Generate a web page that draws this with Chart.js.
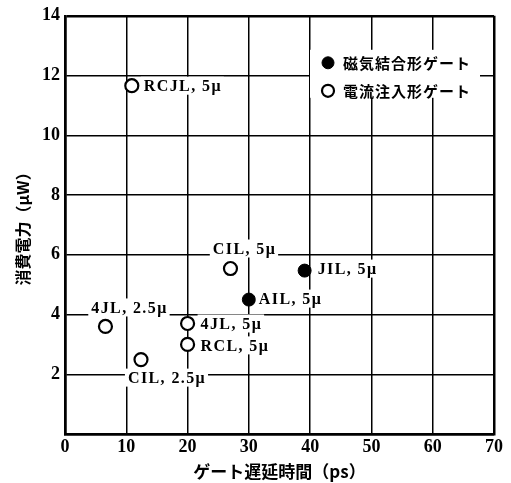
<!DOCTYPE html>
<html>
<head>
<meta charset="utf-8">
<script src="https://cdn.jsdelivr.net/npm/chart.js@4/dist/chart.umd.min.js"></script>
<style>
  body { margin: 0; background: #fff; }
  #wrap { width: 511px; height: 483px; }
</style>
</head>
<body>
<div id="wrap"><canvas id="chart" width="511" height="483"></canvas></div>
<script>
// ゲート遅延時間 (ps) と 消費電力 (μW)
const seriesNames = ["磁気結合形ゲート", "電流注入形ゲート"];

const magDelay = [30, 39.1];
const magPower = [4.5, 5.47];
const magLabels = ["AIL, 5μ", "JIL, 5μ"];

const curDelay = [10.9, 27.0, 6.6, 20.0, 20.0, 12.4];
const curPower = [11.66, 5.54, 3.6, 3.7, 3.0, 2.49];
const curLabels = ["RCJL, 5μ", "CIL, 5μ", "4JL, 2.5μ", "4JL, 5μ", "RCL, 5μ", "CIL, 2.5μ"];

const xTicks = [0, 10, 20, 30, 40, 50, 60, 70];
const yTicks = [0, 2, 4, 6, 8, 10, 12, 14];

// label placement (offset from the point, in px)
const magPlace = [
  { dx: 10, dy: -1, align: "left" },
  { dx: 13, dy: -2, align: "left" }
];
const curPlace = [
  { dx: 12, dy: 0, align: "left" },
  { dx: 14, dy: -20, align: "center" },
  { dx: 24, dy: -19, align: "center" },
  { dx: 13, dy: 0, align: "left" },
  { dx: 13, dy: 1, align: "left" },
  { dx: 26, dy: 18, align: "center" }
];

const toPoints = (xs, ys) => xs.map((x, i) => ({ x, y: ys[i] }));

const pointLabels = {
  id: "pointLabels",
  afterDatasetsDraw(chart) {
    const ctx = chart.ctx;
    ctx.save();
    ctx.font = "bold 16px 'Liberation Serif'";
    ctx.letterSpacing = "1.4px";
    ctx.textBaseline = "middle";
    chart.data.datasets.forEach((ds, di) => {
      const meta = chart.getDatasetMeta(di);
      meta.data.forEach((pt, i) => {
        const txt = ds.pointText[i];
        const p = ds.place[i];
        const w = ctx.measureText(txt).width;
        let x = pt.x + p.dx;
        if (p.align === "center") x -= w / 2;
        const y = pt.y + p.dy;
        ctx.fillStyle = "#fff";
        ctx.fillRect(x - 3, y - 9, w + 5, 18);
        ctx.fillStyle = "#000";
        ctx.textAlign = "left";
        ctx.fillText(txt, x, y + 1);
      });
    });
    ctx.restore();
  }
};

const boxLegend = {
  id: "boxLegend",
  afterDraw(chart) {
    const ctx = chart.ctx;
    const a = chart.chartArea;
    const left = a.right - 184, top = a.top + 34;
    ctx.save();
    ctx.fillStyle = "#fff";
    ctx.fillRect(left, top, 170, 48);
    ctx.font = "bold 15px 'Noto Sans CJK JP'";
    ctx.textBaseline = "middle";
    chart.data.datasets.forEach((ds, i) => {
      const y = top + 13 + i * 28;
      ctx.beginPath();
      ctx.arc(left + 18, y, ds.pointRadius - 0.5, 0, Math.PI * 2);
      ctx.fillStyle = ds.pointBackgroundColor;
      ctx.fill();
      ctx.lineWidth = ds.pointBorderWidth;
      ctx.strokeStyle = ds.pointBorderColor;
      ctx.stroke();
      ctx.fillStyle = "#000";
      ctx.letterSpacing = "1px";
      ctx.fillText(ds.label, left + 33, y);
    });
    ctx.restore();
  }
};

const gridWidth = ctx => (ctx.index === 0 || ctx.index === ctx.scale.ticks.length - 1) ? 2.5 : 1.5;

new Chart(document.getElementById("chart"), {
  type: "scatter",
  data: {
    datasets: [
      {
        label: seriesNames[0],
        data: toPoints(magDelay, magPower),
        pointText: magLabels,
        place: magPlace,
        pointRadius: 6.5,
        pointBackgroundColor: "#000",
        pointBorderColor: "#000",
        pointBorderWidth: 1
      },
      {
        label: seriesNames[1],
        data: toPoints(curDelay, curPower),
        pointText: curLabels,
        place: curPlace,
        pointRadius: 6.5,
        pointBackgroundColor: "#fff",
        pointBorderColor: "#000",
        pointBorderWidth: 2.2
      }
    ]
  },
  options: {
    responsive: false,
    animation: false,
    layout: { padding: { top: 14, right: 17, left: 0, bottom: 0 } },
    plugins: {
      legend: { display: false },
      tooltip: { enabled: false }
    },
    scales: {
      x: {
        type: "linear",
        min: xTicks[0],
        max: xTicks[xTicks.length - 1],
        afterBuildTicks: s => { s.ticks = xTicks.map(v => ({ value: v })); },
        afterFit: s => { s.height = 49; },
        grid: { color: "#000", lineWidth: gridWidth, drawTicks: false },
        border: { color: "#000", width: 2.5 },
        ticks: {
          padding: 3,
          color: "#000",
          font: { family: "'Liberation Serif'", size: 18, weight: "bold" }
        },
        title: {
          display: true,
          text: "ゲート遅延時間（ps）",
          color: "#000",
          font: { family: "'Noto Sans CJK JP'", size: 17, weight: "bold" },
          padding: { top: 0, bottom: 1 }
        }
      },
      y: {
        type: "linear",
        min: yTicks[0],
        max: yTicks[yTicks.length - 1],
        afterBuildTicks: s => { s.ticks = yTicks.map(v => ({ value: v })); },
        afterFit: s => { s.width = 65; },
        grid: { color: "#000", lineWidth: gridWidth, drawTicks: false },
        border: { color: "#000", width: 2.5 },
        ticks: {
          padding: 5,
          color: "#000",
          font: { family: "'Liberation Serif'", size: 18, weight: "bold" },
          callback: v => (v === 0 ? "" : v)
        },
        title: {
          display: true,
          text: "消費電力（μW）",
          color: "#000",
          font: { family: "'Noto Sans CJK JP'", size: 16, weight: "bold" },
          padding: { top: 13, bottom: 0 }
        }
      }
    }
  },
  plugins: [pointLabels, boxLegend]
});
</script>
</body>
</html>
